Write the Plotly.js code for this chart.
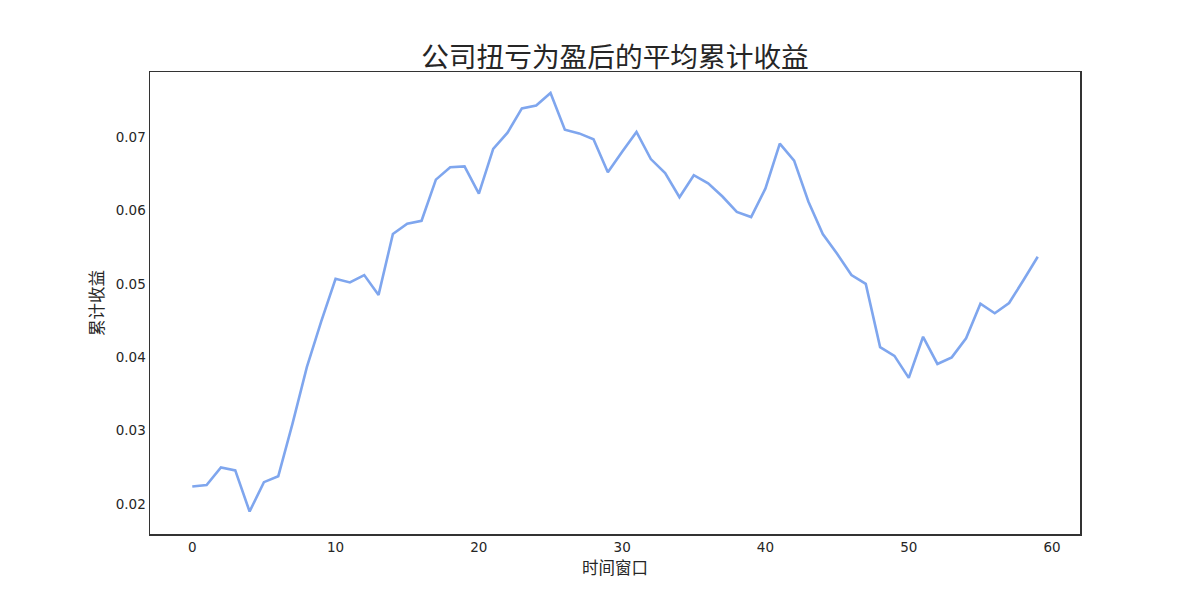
<!DOCTYPE html>
<html>
<head>
<meta charset="utf-8">
<script src="https://cdn.plot.ly/plotly-3.0.1.min.js"></script>
<style>html,body{margin:0;padding:0;background:#fff;}#chart{width:1200px;height:600px;}</style>
</head>
<body>
<div id="chart"></div>
<script>
const windows = Array.from({length: 60}, (_, i) => i);
const cumReturn = [
  0.0224, 0.0226, 0.0250, 0.0246, 0.0190, 0.0230, 0.0238, 0.0310, 0.0387, 0.0449,
  0.0507, 0.0502, 0.0512, 0.0485, 0.0568, 0.0582, 0.0586, 0.0642, 0.0659, 0.0660,
  0.0623, 0.0684, 0.0706, 0.0739, 0.0743, 0.0760, 0.0710, 0.0705, 0.0697, 0.0652,
  0.0680, 0.0707, 0.0670, 0.0651, 0.0618, 0.0648, 0.0637, 0.0619, 0.0598, 0.0591,
  0.0630, 0.0691, 0.0668, 0.0612, 0.0568, 0.0541, 0.0512, 0.0500, 0.0414, 0.0402,
  0.0372, 0.0428, 0.0391, 0.0400, 0.0426, 0.0473, 0.0460, 0.0474, 0.0505, 0.0537
];
const xTicks = [0, 10, 20, 30, 40, 50, 60];
const yTicks = [0.02, 0.03, 0.04, 0.05, 0.06, 0.07];
const titleText = '公司扭亏为盈后的平均累计收益';
const xTitle = '时间窗口';
const yTitle = '累计收益';

const cjk = '"Noto Sans CJK SC", "DejaVu Sans", sans-serif';
const tickFont = {family: '"DejaVu Sans", sans-serif', size: 13.5, color: '#262626'};

const trace = {
  x: windows, y: cumReturn, type: 'scatter', mode: 'lines',
  line: {color: '#7fa6ee', width: 2.6}, hoverinfo: 'x+y'
};

const layout = {
  width: 1200, height: 600,
  paper_bgcolor: '#ffffff', plot_bgcolor: '#ffffff',
  margin: {l: 150, r: 120, t: 72, b: 66},
  showlegend: false,
  title: {text: titleText, font: {family: cjk, size: 27.7, color: '#262626'}, xref: 'paper', x: 0.5, xanchor: 'center', y: 0.905, yanchor: 'middle'},
  xaxis: {
    range: [-2.95, 61.95], tickvals: xTicks, ticktext: xTicks.map(String),
    showgrid: false, zeroline: false, showline: true, mirror: true,
    linecolor: '#333333', linewidth: 1.5, ticks: '', tickfont: tickFont,
    title: {text: xTitle, font: {family: cjk, size: 16.5, color: '#262626'}, standoff: 6}
  },
  yaxis: {
    range: [0.01594, 0.07886], tickvals: yTicks, ticktext: yTicks.map(v => v.toFixed(2)),
    showgrid: false, zeroline: false, showline: true, mirror: true,
    linecolor: '#333333', linewidth: 1.5, ticks: '', tickfont: tickFont,
    title: {text: yTitle, font: {family: cjk, size: 16.5, color: '#262626'}, standoff: 8}
  }
};

Plotly.newPlot('chart', [trace], layout, {displayModeBar: false, staticPlot: true});
</script>
</body>
</html>
